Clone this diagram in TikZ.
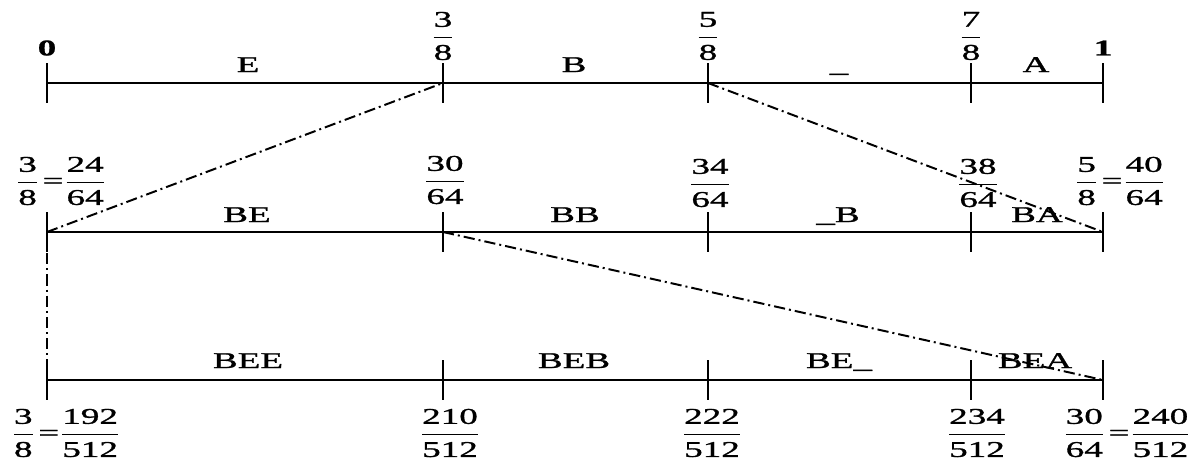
\documentclass[tikz,border=0pt]{standalone}
\usepackage{amsmath}
\usepackage{fontspec}
\setmainfont[FakeStretch=1.65, FakeBold=1.2]{Liberation Serif}

\newcommand{\fr}[2]{\dfrac{\text{#1}}{\text{#2}}}
\newcommand{\eqs}{\mkern3mu\text{=}\mkern1mu}

\tikzset{
	every node/.style={font=\fontsize{16}{19}\selectfont, inner sep=0pt},
	axis/.style={line width=1.4pt},
	zoomline/.style={line width=1.4pt, dash pattern=on 0.28cm off 0.1cm on 0.05cm off 0.1cm},
}

\begin{document}
\begin{tikzpicture}[x=0.025cm, y=-0.025cm]
	\useasboundingbox (0,0) rectangle (1203,460);
%
	\coordinate (u0) at (47,83);  \coordinate (u1) at (443,83);  \coordinate (u2) at (708,83);
	\coordinate (u3) at (971,83); \coordinate (u4) at (1103,83);
	\coordinate (v0) at (47,232);  \coordinate (v1) at (443,232); \coordinate (v2) at (708,232);
	\coordinate (v3) at (971,232); \coordinate (v4) at (1103,232);
	\coordinate (w0) at (47,380);  \coordinate (w1) at (443,380); \coordinate (w2) at (708,380);
	\coordinate (w3) at (971,380); \coordinate (w4) at (1103,380);
%
	\draw[axis] (u0) -- (u4);
	\draw[axis] (v0) -- (v4);
	\draw[axis] (w0) -- (w4);
	\foreach \p in {u0,u1,u2,u3,u4,v0,v1,v2,v3,v4,w0,w1,w2,w3,w4}
		\draw[axis] (\p) ++(0,-20) -- ++(0,40);
%
	\draw[zoomline] (v0) -- (u1);
	\draw[zoomline] (u2) -- (v4);
	\draw[zoomline] (v0) -- (w0);
	\draw[zoomline] (v1) -- (w4);
%
	\node[font=\fontsize{16}{19}\selectfont\bfseries] (n0) at (47,48) {0};
	\node (n3) at (443,36) {$\fr{3}{8}$};
	\node (n5) at (708,36) {$\fr{5}{8}$};
	\node (n7) at (971,36) {$\fr{7}{8}$};
	\node[font=\fontsize{16}{19}\selectfont\bfseries] (n8) at (1103,48) {1};
	\node[anchor=base] (sE) at (248,72) {E};
	\node[anchor=base] (sB) at (574,72) {B};
	\node[anchor=base] (sU) at (839,72) {\_};
	\node[anchor=base] (sA) at (1036,72) {A};
%
	\node (m0) at (61,181) {$\fr{3}{8}\eqs\fr{24}{64}$};
	\node (m1) at (445,180) {$\fr{30}{64}$};
	\node (m2) at (710,183) {$\fr{34}{64}$};
	\node (m3) at (978,183) {$\fr{38}{64}$};
	\node (m4) at (1120,181) {$\fr{5}{8}\eqs\fr{40}{64}$};
	\node[anchor=base] (sBE) at (247,222) {BE};
	\node[anchor=base] (sBB) at (575,222) {BB};
	\node[anchor=base] (sUB) at (838,222) {\_B};
	\node[anchor=base] (sBA) at (1037,222) {BA};
%
	\node[anchor=base] (sBEE) at (248,368) {BEE};
	\node[anchor=base] (sBEB) at (574,368) {BEB};
	\node[anchor=base] (sBEU) at (839,368) {BE\_};
	\node[anchor=base] (sBEA) at (1035,368) {BEA};
	\node (k0) at (66,433) {$\fr{3}{8}\eqs\fr{192}{512}$};
	\node (k1) at (450,433) {$\fr{210}{512}$};
	\node (k2) at (712,433) {$\fr{222}{512}$};
	\node (k3) at (977,433) {$\fr{234}{512}$};
	\node (k4) at (1127,433) {$\fr{30}{64}\eqs\fr{240}{512}$};
\end{tikzpicture}
\end{document}
